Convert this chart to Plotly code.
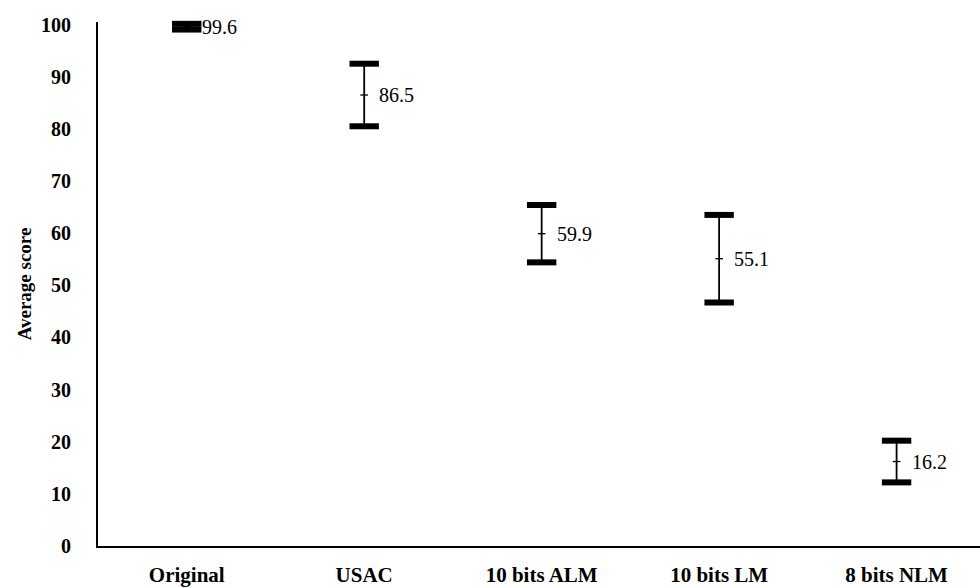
import plotly.graph_objects as go

categories = ["Original", "USAC", "10 bits ALM", "10 bits LM", "8 bits NLM"]
scores = [99.6, 86.5, 59.9, 55.1, 16.2]
errors = [0.55, 6.0, 5.5, 8.4, 4.0]
y_ticks = [0, 10, 20, 30, 40, 50, 60, 70, 80, 90, 100]

FONT = "Liberation Serif"
xs = list(range(len(categories)))

fig = go.Figure()

# stems with centre tick
fig.add_trace(go.Scatter(
    x=xs, y=scores, mode="markers",
    marker=dict(symbol="line-ew-open", size=5.5, color="black",
                line=dict(color="black", width=1.3)),
    error_y=dict(type="data", array=errors, visible=True,
                 color="black", thickness=1.8, width=0),
    hoverinfo="skip", showlegend=False, cliponaxis=False,
))

# caps
cap_x = xs + xs
cap_y = [s + e for s, e in zip(scores, errors)] + [s - e for s, e in zip(scores, errors)]
fig.add_trace(go.Scatter(
    x=cap_x, y=cap_y, mode="markers",
    marker=dict(symbol="line-ew-open", size=21, color="black",
                line=dict(color="black", width=6)),
    hoverinfo="skip", showlegend=False, cliponaxis=False,
))

# value labels
for x, v in zip(xs, scores):
    fig.add_annotation(
        x=x, y=v, text=f"{v:.1f}", showarrow=False,
        xanchor="left", yanchor="middle", xshift=13,
        font=dict(family=FONT, size=20, color="black"),
    )

fig.update_layout(
    width=980, height=588,
    margin=dict(l=98, r=0, t=22.4, b=42),
    plot_bgcolor="white", paper_bgcolor="white",
    font=dict(family=FONT, color="black"),
)
fig.update_xaxes(
    range=[-0.5, 4.47], automargin=False,
    tickmode="array", tickvals=xs, ticktext=categories,
    tickfont=dict(family=FONT, size=21, color="black", weight="bold"),
    showline=True, linecolor="black", linewidth=2,
    showgrid=False, zeroline=False, ticks="", ticklabelstandoff=9,
)
fig.update_yaxes(
    range=[0, 100.5], automargin=False,
    tickmode="array", tickvals=y_ticks,
    tickfont=dict(family=FONT, size=20, color="black", weight="bold"),
    showline=True, linecolor="black", linewidth=2,
    showgrid=False, zeroline=False, ticks="", ticklabelstandoff=21,
    title=dict(text="Average score", standoff=4,
               font=dict(family=FONT, size=19, color="black", weight="bold")),
)

fig.write_html(
    "out.html",
    config={"displayModeBar": False},
    post_script="document.body.style.margin='0';document.body.style.overflow='hidden';",
)
